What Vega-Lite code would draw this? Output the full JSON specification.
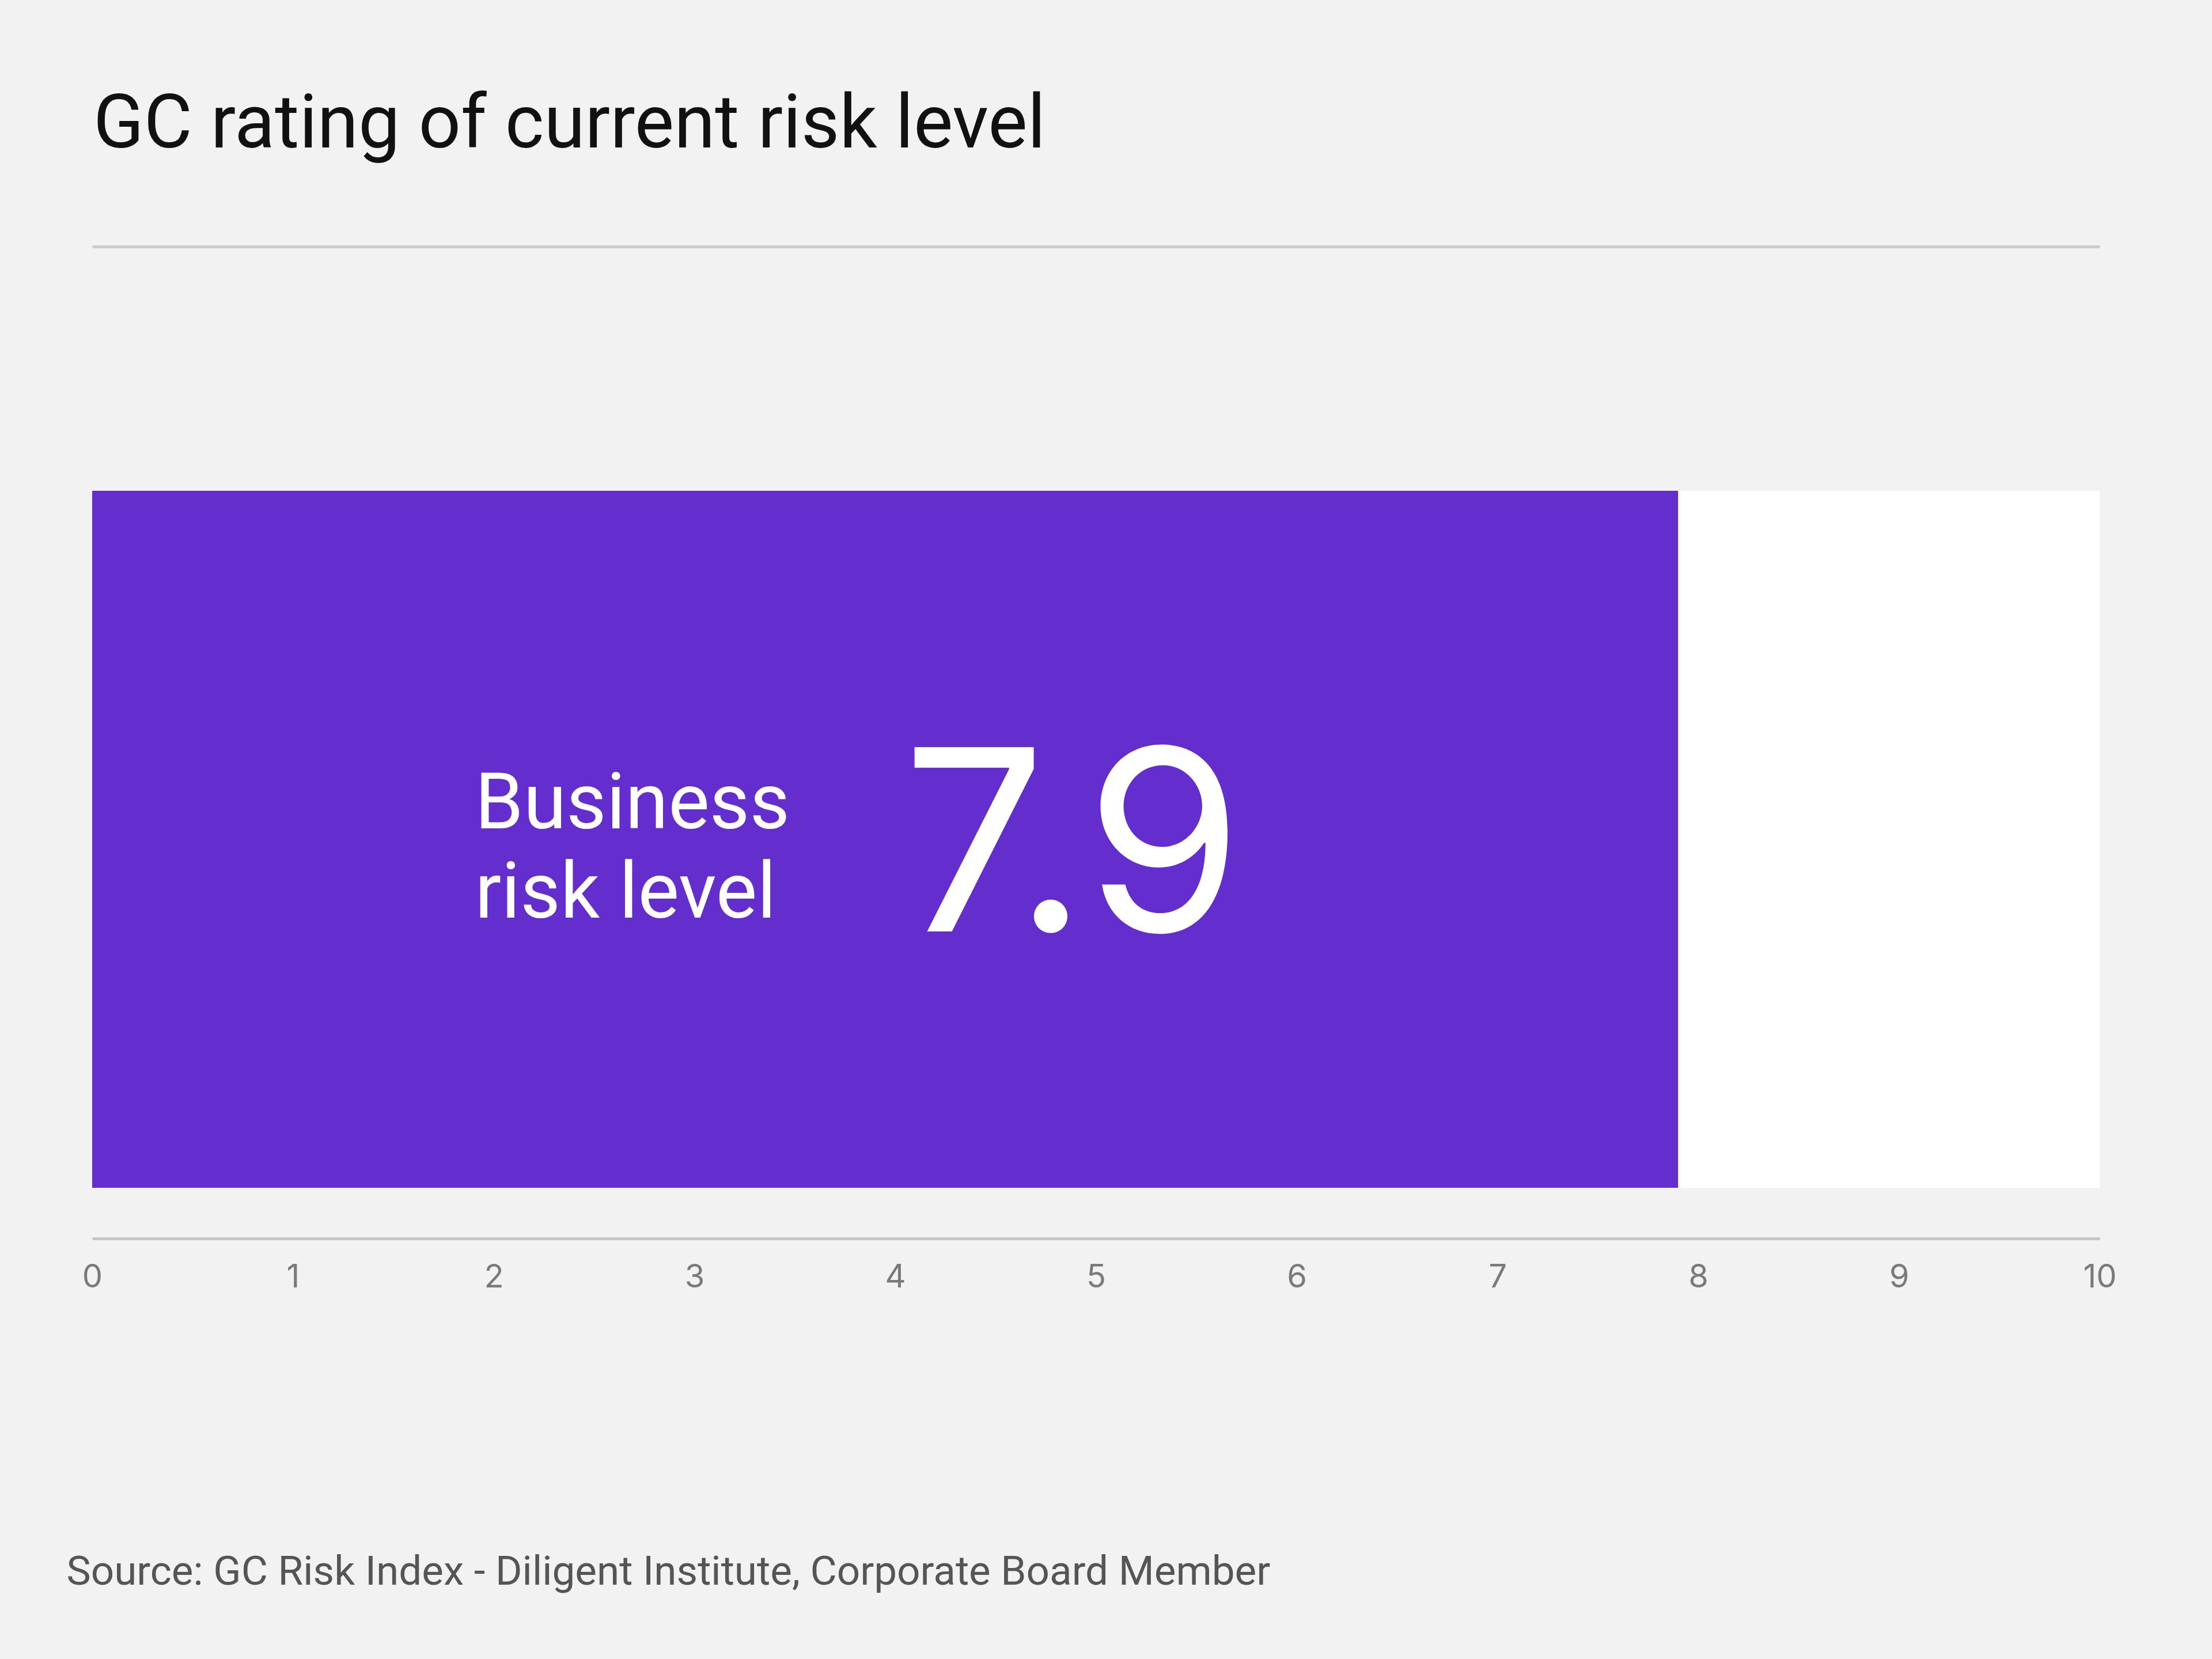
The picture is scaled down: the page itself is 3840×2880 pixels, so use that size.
{
  "$schema": "https://vega.github.io/schema/vega-lite/v6.json",
  "autosize": "none",
  "width": 3485,
  "height": 1210,
  "padding": {"left": 160, "top": 852, "right": 195, "bottom": 818},
  "background": "#f2f2f2",
  "config": {
    "view": {"stroke": null},
    "font": "Roboto",
    "axis": {"grid": false, "ticks": false, "domainColor": "#c6c6c6", "domainWidth": 5}
  },
  "title": {
    "text": "GC rating of current risk level",
    "anchor": "start",
    "frame": "group",
    "font": "Roboto",
    "fontSize": 129,
    "fontWeight": "normal",
    "color": "#111111",
    "baseline": "alphabetic",
    "offset": 43,
    "dx": 2
  },
  "data": {"values": [{"measure": "Business\nrisk level", "value": 7.9, "max": 10}]},
  "resolve": {"axis": {"x": "independent"}},
  "layer": [
    {
      "mark": {"type": "rect", "color": "#ffffff"},
      "encoding": {
        "x": {
          "field": "max", "type": "quantitative",
          "scale": {"domain": [0, 10], "nice": false, "zero": true},
          "axis": {
            "orient": "bottom", "offset": 88, "values": [0,1,2,3,4,5,6,7,8,9,10], "format": "d",
            "labelFont": "Inter", "labelFontSize": 56, "labelColor": "#7a7a7a", "labelPadding": 40,
            "labelFlush": false,
            "title": "Source: GC Risk Index - Diligent Institute, Corporate Board Member",
            "titleFont": "Roboto", "titleFontSize": 71, "titleFontWeight": "normal", "titleColor": "#555555",
            "titleAnchor": "start", "titleAlign": "left", "titleBaseline": "alphabetic",
            "titleX": -45, "titleY": 600
          }
        },
        "x2": {"datum": 0}
      }
    },
    {
      "mark": {"type": "rect", "color": "#632ecd"},
      "encoding": {
        "x": {
          "field": "value", "type": "quantitative",
          "axis": {"orient": "top", "offset": 424, "labels": false, "title": null, "domainColor": "#cccccc", "domainWidth": 5}
        },
        "x2": {"datum": 0}
      }
    },
    {
      "mark": {"type": "text", "color": "#ffffff", "font": "Roboto", "fontSize": 135, "align": "left", "baseline": "alphabetic", "lineBreak": "\n", "lineHeight": 155, "dx": -712, "dy": -19},
      "encoding": {
        "x": {"datum": 3.95, "type": "quantitative", "axis": null},
        "text": {"field": "measure"}
      }
    },
    {
      "mark": {"type": "text", "color": "#ffffff", "font": "Inter", "fontSize": 440, "align": "left", "baseline": "alphabetic", "dx": 30, "dy": 160},
      "encoding": {
        "x": {"datum": 3.95, "type": "quantitative", "axis": null},
        "text": {"field": "value", "type": "quantitative", "format": ".1f"}
      }
    }
  ]
}
